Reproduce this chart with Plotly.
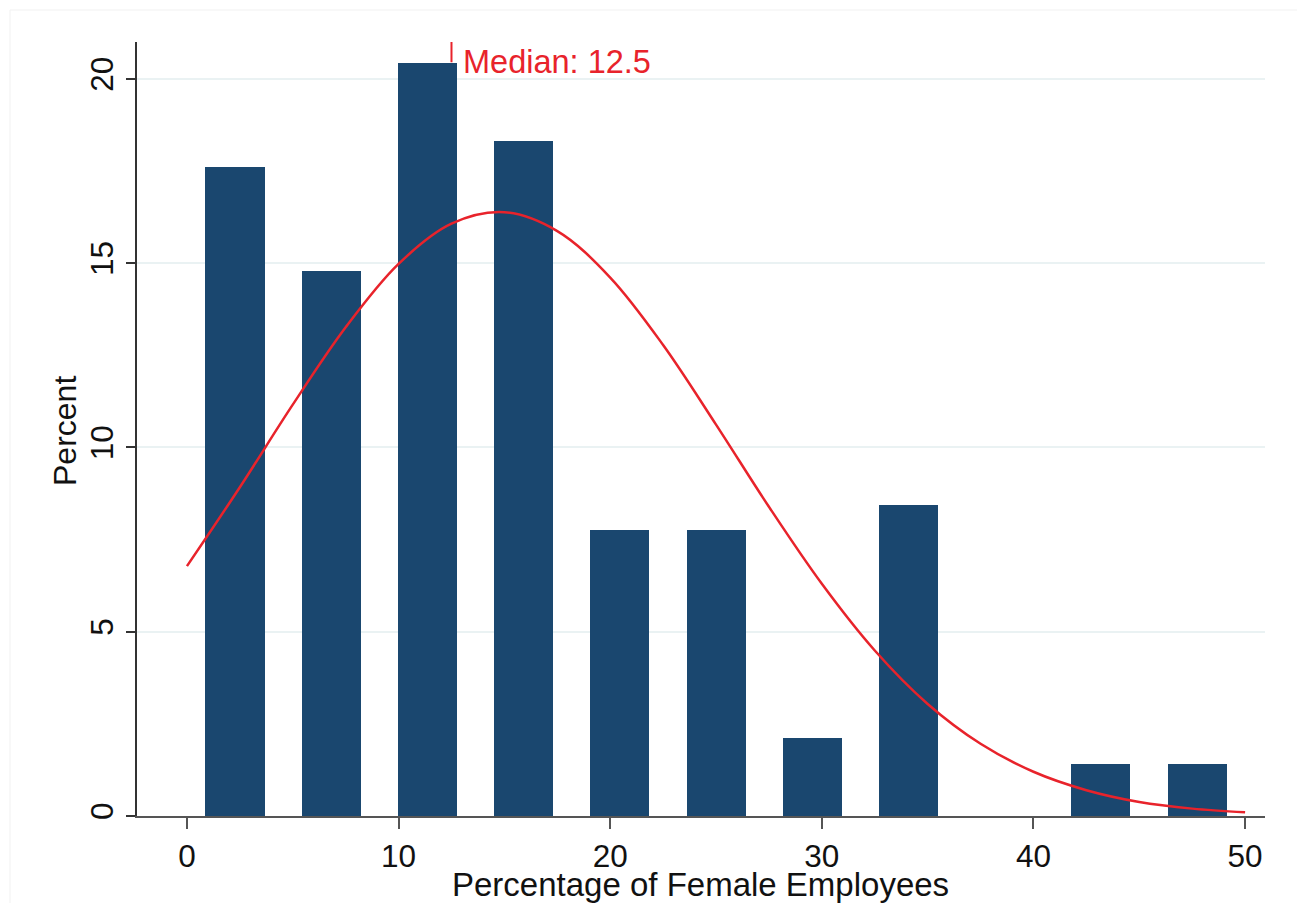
import plotly.graph_objects as go

# Histogram bins (midpoints) and percentages
bin_centers = [2.27, 6.82, 11.36, 15.91, 20.45, 25.0, 29.55, 34.09, 38.64, 43.18, 47.73]
percent = [17.61, 14.79, 20.42, 18.31, 7.75, 7.75, 2.11, 8.45, 0.0, 1.41, 1.41]

# Normal density overlay
curve_x = [0, 2.5, 5, 7.5, 10, 12.5, 15, 17.5, 20, 22.5, 25, 27.5, 30,
           32.5, 35, 37.5, 40, 42.5, 45, 47.5, 50]
curve_y = [6.78, 8.92, 11.16, 13.26, 14.98, 16.07, 16.38, 15.87, 14.61, 12.78,
           10.62, 8.39, 6.30, 4.49, 3.04, 1.96, 1.20, 0.70, 0.38, 0.20, 0.10]

median_value = 12.5
x_ticks = [0, 10, 20, 30, 40, 50]
y_ticks = [0, 5, 10, 15, 20]

FONT = "Liberation Sans, Arial, sans-serif"
NAVY = "#1a476f"
RED = "#e8232b"

fig = go.Figure()
fig.add_trace(go.Bar(x=bin_centers, y=percent, width=2.79,
                     marker=dict(color=NAVY, line=dict(width=0)),
                     showlegend=False, hoverinfo="x+y"))
fig.add_trace(go.Scatter(x=curve_x, y=curve_y, mode="lines",
                         line=dict(color=RED, width=2.5, shape="spline", smoothing=1.0),
                         showlegend=False))

# Median marker
fig.add_shape(type="line", x0=median_value, x1=median_value, y0=20.45, y1=21,
              xref="x", yref="y", line=dict(color=RED, width=2))
fig.add_annotation(x=median_value, y=20.47, xref="x", yref="y",
                   text="Median: " + str(median_value), showarrow=False,
                   xanchor="left", yanchor="middle", xshift=10,
                   font=dict(family=FONT, size=32.5, color=RED))

# Axis titles
fig.add_annotation(x=0.5, y=0, xref="paper", yref="paper", text="Percentage of Female Employees",
                   showarrow=False, xanchor="center", yanchor="middle", yshift=-68, xshift=-1,
                   font=dict(family=FONT, size=33, color="#111"))
fig.add_annotation(x=0, y=0.5, xref="paper", yref="paper", text="Percent",
                   showarrow=False, xanchor="center", yanchor="middle", xshift=-72, yshift=-2,
                   textangle=-90, font=dict(family=FONT, size=32, color="#111"))

# faint outer border
fig.add_shape(type="rect", xref="paper", yref="paper",
              x0=(10 - 137) / 1128, x1=(1300 - 137) / 1128,
              y0=(816 - 910) / 774, y1=(816 - 10) / 774,
              line=dict(color="#f1f1f1", width=1), layer="below")

fig.update_layout(
    width=1297, height=903,
    margin=dict(l=137, r=32, t=42, b=87),
    paper_bgcolor="white", plot_bgcolor="white",
    font=dict(family=FONT, size=31.5, color="#111"),
    bargap=0,
)
fig.update_xaxes(range=[-2.36, 50.94], tickvals=x_ticks, ticks="outside", ticklen=11,
                 tickwidth=2, tickcolor="#555", showline=True, linecolor="#555", linewidth=2,
                 showgrid=False, zeroline=False, tickfont=dict(size=31.5, color="#111"))
fig.update_yaxes(range=[0, 21], tickvals=y_ticks, ticks="outside", ticklen=9,
                 tickwidth=2, tickcolor="#333", showline=True, linecolor="#333", linewidth=2,
                 showgrid=True, gridcolor="#eaf2f3", gridwidth=2, zeroline=False,
                 tickangle=-90, tickfont=dict(size=31.5, color="#111"))

fig.write_html("out.html")
